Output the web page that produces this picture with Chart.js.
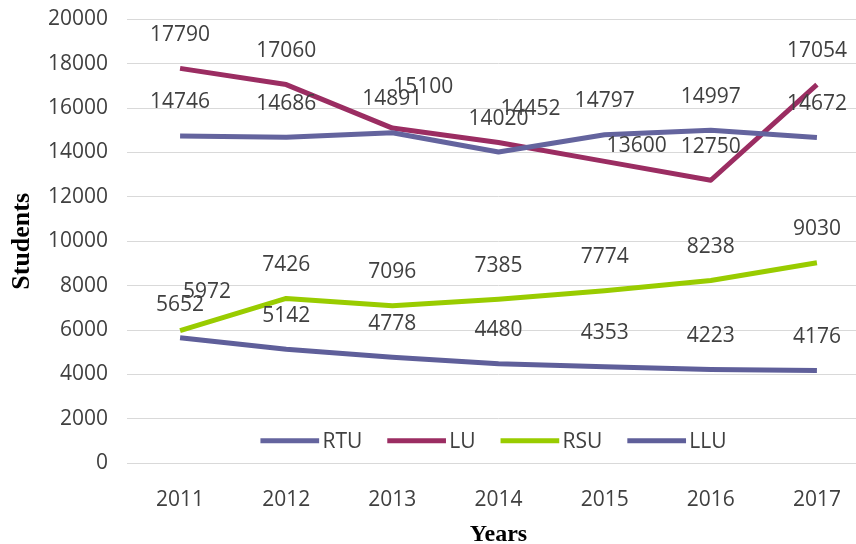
<!DOCTYPE html>
<html><head><meta charset="utf-8">
<script src="https://cdn.jsdelivr.net/npm/chart.js@4"></script>
<style>
html,body{margin:0;padding:0;overflow:hidden;background:#fff;width:856px;height:544px}
#wrap{width:900px;height:544px;position:relative}
</style></head>
<body><div id="wrap"><canvas id="c" width="900" height="544"></canvas></div>
<script>
const years = ['2011','2012','2013','2014','2015','2016','2017'];
const seriesNames = ['RTU','LU','RSU','LLU'];
const rtu = [14746, 14686, 14891, 14020, 14797, 14997, 14672];
const lu  = [17790, 17060, 15100, 14452, 13600, 12750, 17054];
const rsu = [5972, 7426, 7096, 7385, 7774, 8238, 9030];
const llu = [5652, 5142, 4778, 4480, 4353, 4223, 4176];
const yTicks = [0,2000,4000,6000,8000,10000,12000,14000,16000,18000,20000];
const seriesColors = ['#64649E','#9B2D62','#99CC00','#5F5F9A'];

// label nudges (dx, dy) relative to the default "above the point" placement
const labelNudges = {1:{2:[31,-8],3:[32,0],4:[32,18]}, 2:{0:[27,-5]}, 3:{0:[0,1]}};

const FONT = "'Open Sans', 'Noto Sans', sans-serif";
const TXT = '#404040';

const seriesData = [rtu, lu, rsu, llu];
const datasets = seriesNames.map((n,i)=>({
  label:n, data:seriesData[i], borderColor:seriesColors[i], backgroundColor:seriesColors[i],
  borderWidth:5, pointRadius:0, pointHoverRadius:0, tension:0, fill:false,
  borderCapStyle:'butt', borderJoinStyle:'round'
}));

const labelPlugin = {
  id:'vlabels',
  afterDatasetsDraw(chart){
    const ctx = chart.ctx;
    ctx.save();
    ctx.font = '21px ' + FONT;
    ctx.fillStyle = TXT;
    ctx.textAlign = 'center';
    ctx.textBaseline = 'alphabetic';
    chart.data.datasets.forEach((ds,di)=>{
      const meta = chart.getDatasetMeta(di);
      meta.data.forEach((pt,i)=>{
        const nd = (labelNudges[di] && labelNudges[di][i]) || [0,0];
        ctx.fillText(String(ds.data[i]), pt.x + nd[0], pt.y - 27.5 + nd[1]);
      });
    });
    ctx.restore();
  }
};

const legendPlugin = {
  id:'inlegend',
  afterDraw(chart){
    const ctx = chart.ctx, ca = chart.chartArea;
    ctx.save();
    ctx.font = '21px ' + FONT;
    ctx.textBaseline = 'middle';
    ctx.textAlign = 'left';
    const lineLen = 58.7, gap = 3.3, between = 25;
    const items = chart.data.datasets.map(d=>({t:d.label,c:d.borderColor,w:ctx.measureText(d.label).width}));
    let total = 0;
    items.forEach((it,k)=>{ total += lineLen + gap + it.w + (k<items.length-1?between:0); });
    let x = 493.5 - total/2;
    const y = ca.bottom - 22.5;
    items.forEach(it=>{
      ctx.strokeStyle = it.c; ctx.lineWidth = 5; ctx.lineCap='butt';
      ctx.beginPath(); ctx.moveTo(x,y); ctx.lineTo(x+lineLen,y); ctx.stroke();
      x += lineLen + gap;
      ctx.fillStyle = TXT;
      ctx.fillText(it.t, x, y+1);
      x += it.w + between;
    });
    ctx.restore();
  }
};

new Chart(document.getElementById('c'), {
  type:'line',
  data:{labels:years, datasets},
  options:{
    responsive:false, animation:false, devicePixelRatio:1,
    layout:{padding:{left:0,right:30,top:19.3,bottom:0}},
    plugins:{legend:{display:false}, tooltip:{enabled:false}},
    scales:{
      x:{
        offset:true,
        grid:{display:false, drawTicks:false},
        border:{display:true, color:'#D9D9D9', width:1},
        ticks:{color:TXT, font:{family:FONT,size:21}, padding:24, maxRotation:0},
        title:{display:true, text:'Years', color:'#000', font:{family:"'Liberation Serif', 'Times New Roman', serif", size:24, weight:'bold', lineHeight:0.75}, padding:{top:0,bottom:0}},
        afterFit(s){ s.height = 80.7; s.paddingLeft = 0; s.paddingRight = 0; }
      },
      y:{
        min:0, max:20000,
        afterBuildTicks(s){ s.ticks = yTicks.map(v=>({value:v})); },
        grid:{color:'#D9D9D9', lineWidth:1, drawTicks:false},
        border:{display:false},
        ticks:{color:TXT, font:{family:FONT,size:21}, padding:19, callback:(v)=>String(v)},
        title:{display:true, text:'Students', color:'#000', font:{family:"'Liberation Serif', 'Times New Roman', serif", size:26, weight:'bold'}, padding:{top:7,bottom:0}},
        afterFit(s){ s.width = 127; s.paddingTop = 0; s.paddingBottom = 0; }
      }
    }
  },
  plugins:[labelPlugin, legendPlugin]
});
</script>
</body></html>
